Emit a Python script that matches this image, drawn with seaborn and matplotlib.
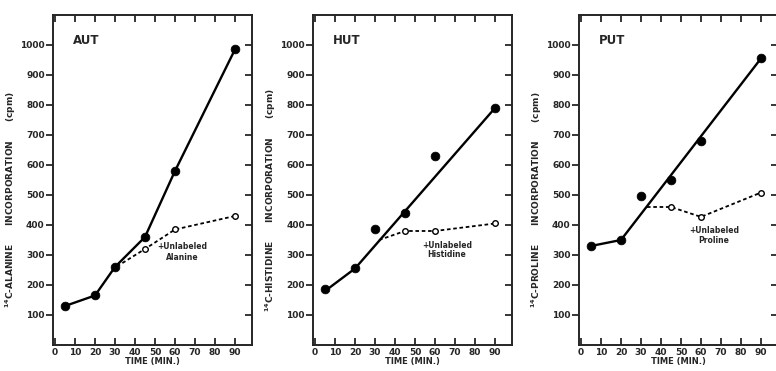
import pandas as pd
import matplotlib
matplotlib.use("Agg")
import matplotlib.pyplot as plt
import seaborn as sns

# data
time_pts = [5, 20, 30, 45, 60, 90]

aut_filled = [130, 165, 260, 360, 580, 985]
aut_line_x = [5, 20, 30, 45, 60, 90]
aut_line_y = [130, 165, 260, 360, 580, 985]
aut_dash_x = [31, 45, 60, 90]
aut_dash_y = [262, 320, 385, 430]

hut_filled = [185, 255, 385, 440, 630, 790]
hut_line_x = [5, 20, 90]
hut_line_y = [180, 255, 790]
hut_dash_x = [32, 45, 60, 90]
hut_dash_y = [350, 380, 380, 405]

put_filled = [330, 350, 495, 550, 680, 955]
put_line_x = [5, 20, 90]
put_line_y = [330, 350, 955]
put_dash_x = [33, 45, 60, 90]
put_dash_y = [460, 460, 427, 508]

open_x = [45, 60, 90]

panels = [
    ("AUT", "ALANINE", "Alanine", aut_filled, aut_line_x, aut_line_y, aut_dash_x, aut_dash_y, (63.5, 327, 290)),
    ("HUT", "HISTIDINE", "Histidine", hut_filled, hut_line_x, hut_line_y, hut_dash_x, hut_dash_y, (66, 333, 302)),
    ("PUT", "PROLINE", "Proline", put_filled, put_line_x, put_line_y, put_dash_x, put_dash_y, (66.5, 383, 347)),
]

sns.set_style("ticks")
plt.rcParams['font.family'] = ['DejaVu Sans']
plt.rcParams['font.weight'] = 'bold'

fig = plt.figure(figsize=(7.76, 3.71), dpi=100)
lefts = [0.0683, 0.4034, 0.7461]

for left, (name, aa, aa_low, filled, lx, ly, dx, dy, ann) in zip(lefts, panels):
    ax = fig.add_axes([left, 0.0701, 0.2564, 0.8895])
    sns.lineplot(x=lx, y=ly, ax=ax, color='black', lw=1.7, sort=False)
    sns.lineplot(x=dx, y=dy, ax=ax, color='black', lw=1.3, linestyle=(0, (2, 1.5)), sort=False)
    sns.scatterplot(x=time_pts, y=filled, ax=ax, color='black', s=40, edgecolor='black', zorder=5)
    sns.scatterplot(x=open_x, y=dy[1:], ax=ax, facecolor='white', edgecolor='black',
                    linewidth=1.0, s=16, zorder=6)

    ax.set_xlim(-1, 98.5)
    ax.set_ylim(0, 1100)
    ax.set_xticks(range(0, 100, 10))
    ax.set_yticks(range(100, 1100, 100))
    ax.tick_params(axis='x', direction='in', top=True, length=5, width=1.3, labelsize=6.5, pad=2)
    ax.tick_params(axis='y', direction='out', length=5, width=1.3, labelsize=6.5, pad=1)
    for lab in ax.get_xticklabels() + ax.get_yticklabels():
        lab.set_fontweight('bold')
    for sp in ax.spines.values():
        sp.set_visible(True)
        sp.set_linewidth(1.4)

    ax2 = ax.twinx()
    ax2.set_ylim(0, 1100)
    ax2.set_yticks(range(100, 1100, 100))
    ax2.tick_params(axis='y', direction='in', length=5, width=1.3, labelright=False)
    for sp in ax2.spines.values():
        sp.set_visible(False)

    ax.set_xlabel("TIME (MIN.)", fontsize=6, fontweight='bold', labelpad=0)
    ax.set_ylabel(r"$^{14}$C-" + aa + "      INCORPORATION      (cpm)", fontsize=6.5,
                  fontweight='bold')
    ax.yaxis.set_label_coords(-0.175, 0.44)
    ax.text(9, 1015, name, fontsize=8.5, fontweight='bold', va='center', ha='left')
    ax.text(ann[0], ann[1], "+Unlabeled", fontsize=5.5, fontweight='bold', ha='center', va='center')
    ax.text(ann[0], ann[2], aa_low, fontsize=5.5, fontweight='bold', ha='center', va='center')

fig.savefig("out.png", dpi=100)
